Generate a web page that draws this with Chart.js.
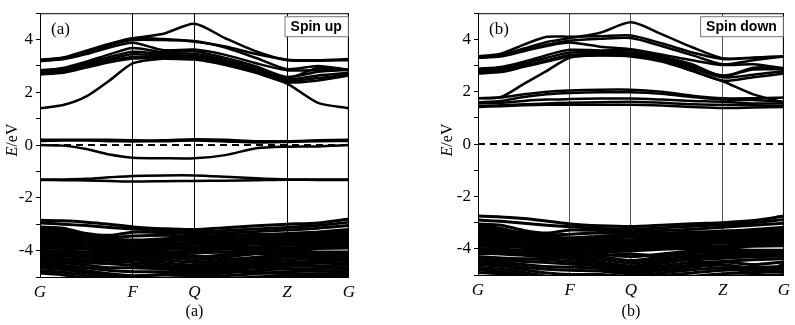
<!DOCTYPE html>
<html>
<head>
<meta charset="utf-8">
<script src="https://cdn.jsdelivr.net/npm/chart.js@4.4.1/dist/chart.umd.min.js"></script>
<style>
  body { margin: 0; background: #fff; width: 795px; height: 325px; overflow: hidden; }
  .pane { position: absolute; top: 0; }
</style>
</head>
<body>
<div class="pane" style="left:0"><canvas id="bandUp" width="360" height="325"></canvas></div>
<div class="pane" style="left:398px"><canvas id="bandDown" width="397" height="325"></canvas></div>
<script>
// k-path sample positions (fraction of path length)
const kPath = [0, 0.075, 0.15, 0.225, 0.30, 0.40, 0.50, 0.60, 0.70, 0.80, 0.90, 1.0];
// high-symmetry points
const symPos = [0, 0.30, 0.50, 0.80, 1.0];
const symNames = ['G', 'F', 'Q', 'Z', 'G'];
const yTicks = [-5, -4, -3, -2, -1, 0, 1, 2, 3, 4, 5];

// ---- spin up ----
const upConduction = [
  [1.40, 1.52, 1.85, 2.45, 3.10, 3.28, 3.30, 3.10, 2.75, 2.33, 1.60, 1.40],
  [2.68, 2.74, 2.94, 3.14, 3.28, 3.28, 3.24, 3.04, 2.74, 2.38, 2.45, 2.64],
  [2.72, 2.78, 2.98, 3.20, 3.34, 3.34, 3.30, 3.10, 2.80, 2.44, 2.54, 2.68],
  [2.78, 2.84, 3.04, 3.26, 3.44, 3.40, 3.38, 3.16, 2.84, 2.50, 2.64, 2.74],
  [2.84, 2.90, 3.10, 3.34, 3.54, 3.46, 3.46, 3.22, 2.90, 2.54, 2.92, 2.84],
  [2.80, 2.92, 3.16, 3.44, 3.68, 3.52, 3.56, 3.30, 2.98, 2.58, 2.78, 2.86],
  [3.20, 3.25, 3.45, 3.70, 3.88, 3.60, 3.62, 3.42, 3.10, 2.84, 2.84, 2.86],
  [3.22, 3.30, 3.55, 3.80, 3.98, 3.98, 3.95, 3.70, 3.30, 2.88, 3.00, 2.86],
  [3.18, 3.28, 3.52, 3.78, 4.05, 4.22, 4.60, 4.05, 3.55, 3.22, 3.20, 3.22],
  [3.24, 3.32, 3.58, 3.84, 4.05, 4.02, 3.92, 3.74, 3.45, 3.24, 3.22, 3.26]
];
const upGap = [
  [0.20, 0.20, 0.20, 0.20, 0.18, 0.18, 0.22, 0.20, 0.15, 0.15, 0.18, 0.20],
  [0.16, 0.17, 0.17, 0.15, 0.14, 0.15, 0.17, 0.14, 0.10, 0.12, 0.15, 0.16],
  [0.00, -0.02, -0.15, -0.36, -0.48, -0.50, -0.50, -0.38, -0.12, -0.06, -0.05, 0.00],
  [-1.30, -1.30, -1.28, -1.22, -1.17, -1.15, -1.15, -1.20, -1.26, -1.30, -1.30, -1.30],
  [-1.32, -1.33, -1.34, -1.36, -1.38, -1.37, -1.36, -1.35, -1.33, -1.31, -1.32, -1.32]
];
const upValence = [
  [-2.85, -2.87, -2.92, -3.00, -3.10, -3.17, -3.20, -3.13, -3.06, -3.00, -2.95, -2.80],
  [-2.95, -3.00, -3.05, -3.12, -3.18, -3.24, -3.28, -3.24, -3.18, -3.12, -3.05, -2.92],
  [-3.10, -3.15, -3.35, -3.42, -3.30, -3.32, -3.36, -3.33, -3.28, -3.22, -3.15, -3.05],
  [-3.15, -3.25, -3.45, -3.50, -3.45, -3.42, -3.45, -3.42, -3.38, -3.40, -3.30, -3.20],
  [-3.20, -3.30, -3.50, -3.65, -3.75, -3.65, -3.55, -3.45, -3.40, -3.35, -3.30, -3.25],
  [-3.30, -3.35, -3.40, -3.55, -3.60, -3.55, -3.50, -3.52, -3.48, -3.45, -3.38, -3.30],
  [-3.40, -3.45, -3.55, -3.62, -3.70, -3.62, -3.58, -3.60, -3.55, -3.52, -3.48, -3.40],
  [-3.50, -3.52, -3.60, -3.70, -3.75, -3.72, -3.68, -3.65, -3.62, -3.58, -3.55, -3.50],
  [-3.55, -3.60, -3.80, -4.00, -4.15, -4.10, -4.00, -3.85, -3.70, -3.60, -3.55, -3.50],
  [-3.60, -3.62, -3.68, -3.75, -3.85, -3.80, -3.76, -3.72, -3.68, -3.65, -3.62, -3.60],
  [-3.65, -3.70, -3.78, -3.82, -3.90, -3.88, -3.85, -3.80, -3.75, -3.72, -3.70, -3.68],
  [-3.75, -3.78, -3.82, -3.90, -3.95, -3.95, -3.92, -3.88, -3.85, -3.80, -3.78, -3.75],
  [-3.80, -3.85, -3.90, -3.95, -4.00, -4.05, -4.02, -3.95, -3.92, -3.90, -3.85, -3.82],
  [-3.90, -3.92, -3.95, -4.00, -4.08, -4.12, -4.10, -4.05, -4.00, -3.95, -3.92, -3.90],
  [-4.20, -4.15, -4.10, -4.05, -4.00, -3.95, -3.90, -3.85, -3.95, -4.05, -4.10, -4.20],
  [-4.00, -4.02, -4.05, -4.08, -4.12, -4.20, -4.25, -4.15, -4.05, -4.00, -4.05, -4.05],
  [-4.05, -4.08, -4.12, -4.15, -4.20, -4.25, -4.35, -4.25, -4.12, -4.10, -4.12, -4.10],
  [-4.10, -4.15, -4.18, -4.22, -4.28, -4.35, -4.45, -4.35, -4.25, -4.18, -4.15, -4.15],
  [-4.15, -4.20, -4.25, -4.30, -4.35, -4.45, -4.55, -4.42, -4.32, -4.25, -4.22, -4.20],
  [-4.25, -4.30, -4.35, -4.40, -4.45, -4.55, -4.62, -4.52, -4.40, -4.35, -4.30, -4.28],
  [-4.50, -4.45, -4.40, -4.35, -4.30, -4.25, -4.20, -4.30, -4.40, -4.50, -4.60, -4.70],
  [-4.30, -4.38, -4.45, -4.50, -4.55, -4.62, -4.70, -4.60, -4.50, -4.45, -4.40, -4.35],
  [-4.40, -4.45, -4.55, -4.65, -4.65, -4.70, -4.78, -4.68, -4.58, -4.52, -4.48, -4.45],
  [-4.45, -4.55, -4.65, -4.75, -4.80, -4.80, -4.85, -4.75, -4.65, -4.60, -4.58, -4.55],
  [-4.55, -4.62, -4.75, -4.88, -4.95, -4.92, -4.92, -4.85, -4.75, -4.70, -4.68, -4.65],
  [-4.65, -4.72, -4.85, -5.00, -5.10, -5.05, -5.00, -4.95, -4.88, -4.80, -4.78, -4.75],
  [-4.75, -4.82, -4.95, -5.10, -5.20, -5.15, -5.10, -5.05, -5.00, -4.92, -4.88, -4.85],
  [-4.85, -4.92, -5.05, -5.20, -5.30, -5.30, -5.25, -5.15, -5.10, -5.02, -4.98, -4.95],
  [-3.35, -3.40, -3.48, -3.58, -3.66, -3.70, -3.72, -3.66, -3.58, -3.52, -3.44, -3.38],
  [-4.60, -4.70, -4.82, -4.95, -4.98, -4.90, -4.82, -4.78, -4.82, -4.88, -4.92, -4.95]
];

// ---- spin down ----
const downConduction = [
  [1.75, 1.80, 2.30, 2.80, 3.30, 3.40, 3.40, 3.20, 2.80, 2.40, 1.90, 1.60],
  [2.70, 2.75, 2.95, 3.15, 3.35, 3.38, 3.35, 3.15, 2.80, 2.42, 2.55, 2.70],
  [2.75, 2.82, 3.00, 3.20, 3.40, 3.45, 3.42, 3.22, 2.90, 2.55, 2.65, 2.78],
  [2.82, 2.88, 3.08, 3.30, 3.50, 3.52, 3.50, 3.30, 2.98, 2.62, 2.85, 2.85],
  [2.88, 2.95, 3.15, 3.40, 3.60, 3.58, 3.58, 3.35, 3.05, 2.58, 2.92, 2.90],
  [3.30, 3.35, 3.55, 3.75, 3.88, 3.72, 3.62, 3.42, 3.20, 3.02, 3.05, 2.90],
  [3.30, 3.38, 3.60, 3.80, 3.95, 4.02, 4.05, 3.75, 3.40, 3.05, 3.20, 3.35],
  [3.35, 3.45, 3.80, 4.10, 4.10, 4.12, 4.15, 3.85, 3.50, 3.25, 3.30, 3.35],
  [3.32, 3.40, 3.65, 3.90, 4.05, 4.25, 4.65, 4.20, 3.70, 3.28, 3.30, 3.35]
];
const downFlat = [
  [1.75, 1.78, 1.90, 2.00, 2.05, 2.08, 2.08, 2.00, 1.85, 1.75, 1.75, 1.78],
  [1.60, 1.65, 1.80, 1.90, 1.95, 1.98, 1.98, 1.92, 1.80, 1.70, 1.68, 1.62],
  [1.55, 1.58, 1.65, 1.70, 1.72, 1.74, 1.74, 1.70, 1.65, 1.62, 1.55, 1.55],
  [1.45, 1.48, 1.52, 1.55, 1.58, 1.60, 1.62, 1.58, 1.52, 1.50, 1.48, 1.45],
  [1.42, 1.45, 1.48, 1.50, 1.50, 1.50, 1.50, 1.47, 1.42, 1.38, 1.40, 1.42]
];
const downValence = [
  [-2.75, -2.78, -2.84, -2.94, -3.05, -3.12, -3.15, -3.10, -3.04, -3.00, -2.92, -2.75],
  [-2.90, -2.95, -3.02, -3.10, -3.16, -3.22, -3.25, -3.20, -3.14, -3.08, -3.00, -2.88],
  [-3.05, -3.10, -3.30, -3.40, -3.28, -3.30, -3.34, -3.30, -3.25, -3.18, -3.10, -3.02],
  [-3.12, -3.22, -3.42, -3.48, -3.44, -3.40, -3.42, -3.40, -3.36, -3.38, -3.26, -3.18],
  [-3.18, -3.28, -3.48, -3.62, -3.72, -3.62, -3.52, -3.44, -3.38, -3.32, -3.28, -3.22],
  [-3.28, -3.32, -3.38, -3.52, -3.58, -3.52, -3.48, -3.50, -3.46, -3.42, -3.36, -3.28],
  [-3.38, -3.42, -3.52, -3.60, -3.68, -3.60, -3.56, -3.58, -3.52, -3.50, -3.45, -3.38],
  [-3.48, -3.50, -3.58, -3.68, -3.72, -3.70, -3.66, -3.62, -3.60, -3.56, -3.52, -3.48],
  [-3.52, -3.58, -3.78, -3.98, -4.12, -4.08, -3.98, -3.82, -3.68, -3.58, -3.52, -3.48],
  [-3.58, -3.60, -3.66, -3.74, -3.82, -3.78, -3.74, -3.70, -3.66, -3.62, -3.60, -3.58],
  [-3.64, -3.68, -3.76, -3.80, -3.88, -3.86, -3.82, -3.78, -3.74, -3.70, -3.68, -3.66],
  [-3.74, -3.76, -3.80, -3.88, -3.94, -3.94, -3.90, -3.86, -3.82, -3.78, -3.76, -3.74],
  [-3.80, -3.84, -3.88, -3.94, -3.98, -4.02, -4.00, -3.94, -3.90, -3.88, -3.84, -3.80],
  [-3.90, -3.92, -3.95, -4.00, -4.06, -4.10, -4.08, -4.02, -3.98, -3.94, -3.90, -3.88],
  [-4.20, -4.15, -4.10, -4.05, -4.00, -3.95, -3.90, -3.95, -4.02, -4.00, -4.10, -4.20],
  [-4.00, -4.02, -4.05, -4.08, -4.12, -4.20, -4.30, -4.20, -4.08, -4.02, -4.05, -4.05],
  [-4.05, -4.08, -4.12, -4.15, -4.22, -4.30, -4.45, -4.30, -4.15, -4.10, -4.12, -4.10],
  [-4.10, -4.15, -4.18, -4.22, -4.30, -4.40, -4.55, -4.40, -4.25, -4.20, -4.15, -4.15],
  [-4.15, -4.20, -4.25, -4.30, -4.38, -4.50, -4.65, -4.48, -4.32, -4.28, -4.22, -4.20],
  [-4.30, -4.35, -4.38, -4.42, -4.48, -4.58, -4.72, -4.56, -4.40, -4.36, -4.30, -4.28],
  [-4.50, -4.45, -4.40, -4.35, -4.30, -4.25, -4.20, -4.30, -4.45, -4.60, -4.75, -4.90],
  [-4.35, -4.42, -4.48, -4.52, -4.58, -4.66, -4.80, -4.66, -4.52, -4.48, -4.42, -4.38],
  [-4.45, -4.52, -4.60, -4.68, -4.70, -4.75, -4.88, -4.75, -4.62, -4.50, -4.60, -4.50],
  [-4.50, -4.60, -4.70, -4.78, -4.82, -4.85, -4.95, -4.82, -4.70, -4.62, -4.95, -4.60],
  [-4.60, -4.68, -4.80, -4.92, -4.98, -4.98, -5.05, -4.92, -4.80, -4.72, -4.70, -4.68],
  [-4.70, -4.78, -4.90, -5.05, -5.12, -5.10, -5.10, -5.02, -4.92, -4.82, -4.80, -4.78],
  [-4.80, -4.88, -5.00, -5.15, -5.22, -5.20, -5.18, -5.10, -5.05, -4.95, -4.90, -4.88],
  [-4.90, -4.96, -5.10, -5.25, -5.32, -5.32, -5.28, -5.20, -5.15, -5.06, -5.02, -5.00],
  [-3.32, -3.36, -3.44, -3.54, -3.62, -3.66, -3.68, -3.62, -3.55, -3.48, -3.40, -3.34]
];

const serif = "'Liberation Serif', 'Times New Roman', serif";
const sans = "'Liberation Sans', Arial, sans-serif";

function bandSets(bands, width) {
  return bands.map(b => ({
    data: b.map((e, i) => ({ x: kPath[i], y: e })),
    borderColor: '#000',
    borderWidth: width,
    pointRadius: 0,
    tension: 0.25,
    fill: false
  }));
}

// frame, inner label, legend box and E/eV title
const panelDeco = {
  id: 'panelDeco',
  afterDraw(chart, args, o) {
    const { ctx, chartArea: a } = chart;
    ctx.save();
    ctx.strokeStyle = '#000';
    ctx.lineWidth = 1;
    ctx.strokeRect(a.left + 0.5, a.top + 0.5, a.right - a.left - 1, a.bottom - a.top);

    ctx.fillStyle = '#000';
    ctx.font = '17px ' + serif;
    ctx.textBaseline = 'middle';
    ctx.textAlign = 'left';
    ctx.fillText(o.tag, a.left + 11, a.top + 16);

    ctx.font = 'bold 14px ' + sans;
    const w = ctx.measureText(o.legend).width + 12;
    const bx = a.right - w - 1, by = a.top + 3;
    ctx.fillStyle = '#fff';
    ctx.fillRect(bx, by, w, 20);
    ctx.strokeStyle = '#777';
    ctx.strokeRect(bx + 0.5, by + 0.5, w, 20);
    ctx.fillStyle = '#000';
    ctx.fillText(o.legend, bx + 6, by + 11);

    // rotated axis title: italic E followed by /eV
    ctx.translate(o.titleX, 140);
    ctx.rotate(-Math.PI / 2);
    ctx.font = 'italic 16px ' + serif;
    const wE = ctx.measureText('E').width;
    ctx.font = '16px ' + serif;
    const wR = ctx.measureText('/eV').width;
    const x0 = -(wE + wR) / 2;
    ctx.font = 'italic 16px ' + serif;
    ctx.fillText('E', x0, 0);
    ctx.font = '16px ' + serif;
    ctx.fillText('/eV', x0 + wE, 0);
    ctx.restore();
  }
};

function makeChart(id, valence, upper, opt) {
  const fermi = {
    data: [{ x: 0, y: 0 }, { x: 1, y: 0 }],
    borderColor: '#000',
    borderWidth: 2,
    borderDash: [7, 5],
    pointRadius: 0
  };
  const sets = [fermi, ...bandSets(valence, 3)];
  upper.forEach(g => sets.push(...bandSets(g, 2.5)));

  new Chart(document.getElementById(id), {
    type: 'line',
    data: { datasets: sets },
    plugins: [panelDeco],
    options: {
      responsive: false,
      animation: false,
      events: [],
      layout: { padding: { top: opt.top, right: opt.right, bottom: 0, left: 0 } },
      plugins: {
        legend: { display: false },
        tooltip: { enabled: false },
        panelDeco: { tag: opt.tag, legend: opt.legend, titleX: opt.titleX }
      },
      scales: {
        x: {
          type: 'linear',
          min: 0,
          max: 1,
          afterBuildTicks: s => { s.ticks = symPos.map(v => ({ value: v })); },
          afterFit: s => { s.height = opt.xHeight; },
          ticks: {
            autoSkip: false,
            maxRotation: 0,
            padding: 5,
            color: '#000',
            font: { family: serif, size: 17, style: 'italic' },
            callback: (v, i) => symNames[i]
          },
          grid: { color: opt.gridColor, lineWidth: 1, drawTicks: false },
          border: { color: '#000', width: 1 },
          title: {
            display: true,
            text: opt.caption,
            color: '#000',
            font: { family: serif, size: 16 },
            padding: { top: 8 }
          }
        },
        y: {
          type: 'linear',
          min: -5,
          max: 5,
          afterBuildTicks: s => { s.ticks = yTicks.map(v => ({ value: v })); },
          afterFit: s => { s.width = opt.yWidth; },
          ticks: {
            autoSkip: false,
            padding: 3,
            color: '#000',
            font: { family: serif, size: 17 },
            callback: v => (v % 2 === 0 && Math.abs(v) < 5) ? String(v) : ''
          },
          grid: { drawOnChartArea: false, drawTicks: true, tickLength: 4, color: '#000' },
          border: { color: '#000', width: 1 }
        }
      }
    }
  });
}

makeChart('bandUp', upValence, [upGap, upConduction], {
  tag: '(a)', legend: 'Spin up', caption: '(a)', titleX: 13,
  top: 0, right: 9, yWidth: 40, xHeight: 48, gridColor: '#000'
});

makeChart('bandDown', downValence, [downFlat, downConduction], {
  tag: '(b)', legend: 'Spin down', caption: '(b)', titleX: 50,
  top: 1, right: 9, yWidth: 80, xHeight: 50, gridColor: '#555'
});
</script>
</body>
</html>
